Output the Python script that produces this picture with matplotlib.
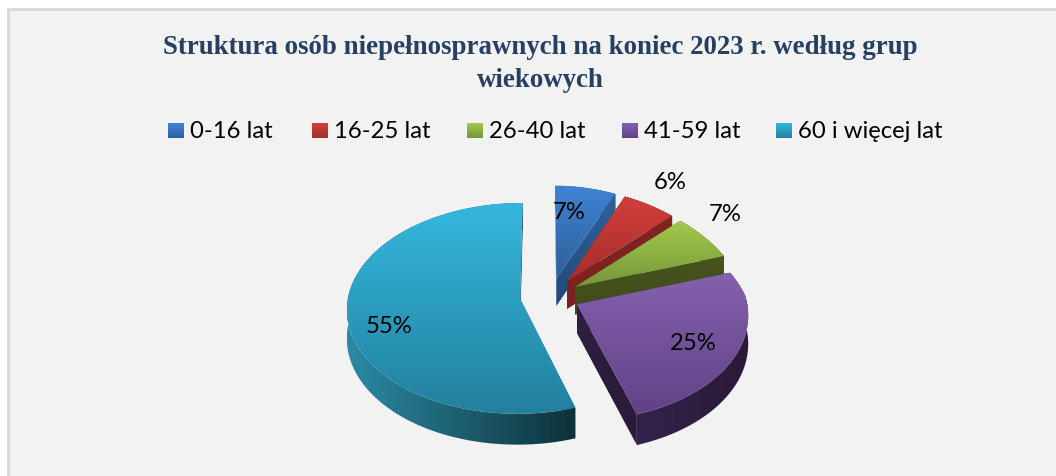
import numpy as np
import matplotlib
matplotlib.use("Agg")
import matplotlib.pyplot as plt
from matplotlib.colors import to_rgb
from matplotlib.patches import Polygon, Rectangle

title = "Struktura osób niepełnosprawnych na koniec 2023 r. według grup\nwiekowych"
categories = ["0-16 lat", "16-25 lat", "26-40 lat", "41-59 lat", "60 i więcej lat"]
shares = [7, 6, 7, 25, 55]

# top face gradient (top, bottom), side wall colours
top_cols = [("#3f84d4", "#2f5f98"), ("#d23e3b", "#a32e2c"), ("#a3cb4b", "#76963a"),
            ("#8561ae", "#614286"), ("#35b8de", "#22809d")]
arc_cols = [("#2e629c", "#1f4878"), ("#7e2321", "#7e2321"), ("#44511c", "#44511c"),
            ("#33234a", "#2a1a36"), ("#2b8aa5", "#0e3139")]
end_cols = [("#2f639e", "#1f4878"), ("#822422", "#7a2220"), ("#47541d", "#3f4c1a"),
            ("#2f1f41", "#2a1a38"), ("#0e3139", "#0e3139")]
start_cols = ["#1f4878", "#7a2220", "#3f4c1a", "#2a1a38", "#1e7f98"]

# where the labels sit, degrees clockwise from top and fraction of radius
label_ang = [7.6, 35.7, 54.2, 118.6, 251]
label_rad = [0.70, 1.32, 1.29, 0.75, 0.784]

legend_x = [168, 312, 467, 622, 776]

# pie projection, in pixels of the figure
cx, cy = 550, 296
R = 172
k = 0.605
persp = 0.09
thick = 28
explode = 0.175


def project(X, Y, z=0):
    f = 1 / (1 + persp * Y)
    fx = f
    if X > 0:
        fx = 0.985 * f * min(f, 1)  # right side, far part narrows a bit more
    return cx + R * X * fx, cy - R * k * Y * f + thick * z * f


def fill_grad(ax, xy, c0, c1, horizontal=False, zorder=2):
    xy = np.array(xy)
    x0, x1 = xy[:, 0].min(), xy[:, 0].max()
    y0, y1 = xy[:, 1].min(), xy[:, 1].max()
    t = np.linspace(0, 1, 128)[:, None]
    img = (1 - t) * np.array(to_rgb(c0)) + t * np.array(to_rgb(c1))
    img = img[None, :, :] if horizontal else img[:, None, :]
    patch = Polygon(xy, closed=True, transform=ax.transData, fc="none", ec="none")
    ax.add_patch(patch)
    im = ax.imshow(img, extent=(x0, x1, y1, y0), origin="upper", aspect="auto",
                   interpolation="bilinear", zorder=zorder)
    im.set_clip_path(patch)


fig = plt.figure(figsize=(10.56, 4.76), dpi=100, facecolor="white")
ax = fig.add_axes([0, 0, 1, 1])
ax.axis("off")

# panel
ax.add_patch(Rectangle((8, 9), 1100, 500, fc="#f2f2f2", ec="#d9d9d9", lw=2, zorder=0))

ax.text(540, 64, title, ha="center", va="center", family="Liberation Serif",
        fontweight="bold", fontsize=19.4, color="#254061", linespacing=1.4, zorder=5)

for x0, name, cols in zip(legend_x, categories, top_cols):
    fill_grad(ax, [(x0, 123), (x0 + 16, 123), (x0 + 16, 138), (x0, 138)], cols[0], cols[1], zorder=5)
    ax.text(x0 + 22, 131, name, ha="left", va="center", family="Lato", fontsize=17.2,
            color="black", zorder=5)

edges = np.cumsum([0] + shares) / sum(shares) * 2 * np.pi
for i, share in enumerate(shares):
    a0, a1 = edges[i], edges[i + 1]
    mid = (a0 + a1) / 2
    ox, oy = explode * np.sin(mid), explode * np.cos(mid)
    ang = np.linspace(a0, a1, 120)
    X = ox + np.sin(ang)
    Y = oy + np.cos(ang)

    top_arc = [project(x, y) for x, y in zip(X, Y)]
    low_arc = [project(x, y, 1) for x, y in zip(X, Y)]
    apex = project(ox, oy)
    apex_low = project(ox, oy, 1)
    z = 2 + i * 0.1

    # walls first, the top face hides whatever is at the back
    fill_grad(ax, [apex, top_arc[0], low_arc[0], apex_low], start_cols[i], start_cols[i], zorder=z)
    fill_grad(ax, top_arc + low_arc[::-1], arc_cols[i][0], arc_cols[i][1], horizontal=True, zorder=z + 0.01)
    fill_grad(ax, [apex, top_arc[-1], low_arc[-1], apex_low], end_cols[i][0], end_cols[i][1], zorder=z + 0.02)
    fill_grad(ax, [apex] + top_arc, top_cols[i][0], top_cols[i][1], zorder=z + 0.03)

    la = np.radians(label_ang[i])
    lx, ly = project(ox + label_rad[i] * np.sin(la), oy + label_rad[i] * np.cos(la))
    ax.text(lx, ly, "{}%".format(share), ha="center", va="center", family="Lato",
            fontsize=17.2, color="black", zorder=6)

ax.set_xlim(0, 1056)
ax.set_ylim(476, 0)
fig.savefig("out.png", dpi=100)
